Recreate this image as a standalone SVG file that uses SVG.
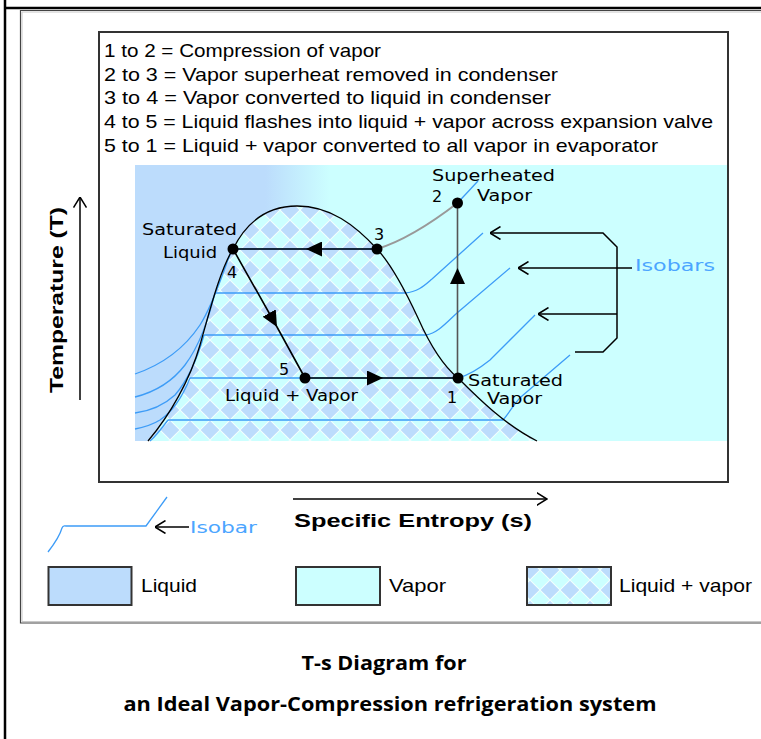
<svg xmlns="http://www.w3.org/2000/svg" width="761" height="739" viewBox="0 0 761 739">
<style>
.leg{font-family:"Liberation Sans",Arial,sans-serif;font-size:19px;fill:#000}
.lab{font-family:"DejaVu Sans",Verdana,sans-serif;font-size:16px;fill:#000}
.axis{font-family:"Liberation Sans",Arial,sans-serif;font-size:18px;font-weight:bold;fill:#000}
.title{font-family:"Open Sans","Liberation Sans",sans-serif;font-size:19px;font-weight:bold;fill:#000;text-anchor:middle}
.iso{fill:none;stroke:#3d9cf7;stroke-width:1.3}
.cyc{fill:none;stroke:#000;stroke-width:1.6}
.thin{fill:none;stroke:#000;stroke-width:1.5}
.pt{fill:#000}
.box{stroke:#333;stroke-width:2}
.blue{fill:#4ba5ff}
</style>
<defs>
<linearGradient id="bg" x1="135" y1="0" x2="727" y2="0" gradientUnits="userSpaceOnUse">
<stop offset="0.22" stop-color="#bcdcfc"/>
<stop offset="0.33" stop-color="#ccffff"/>
</linearGradient>
<pattern id="lv" width="20" height="20" patternUnits="userSpaceOnUse">
<rect width="20" height="20" fill="#f4ffff"/>
<path d="M10,0.7 L19.3,10 L10,19.3 L0.7,10 Z" fill="#bcdcfc"/>
<path d="M0,0 H9.3 L0,9.3 Z M10.7,0 H20 V9.3 Z M20,10.7 V20 H10.7 Z M0,10.7 L9.3,20 H0 Z" fill="#ccffff"/>
</pattern>
<marker id="oa" viewBox="0 0 11 14" refX="10.5" refY="7" markerWidth="11" markerHeight="14" markerUnits="userSpaceOnUse" orient="auto-start-reverse">
<path d="M0,0.5 L10.5,7 L0,13.5" fill="none" stroke="#000" stroke-width="1.5"/>
</marker>
<marker id="fa" viewBox="0 0 16 15" refX="16" refY="7.5" markerWidth="16" markerHeight="15" markerUnits="userSpaceOnUse" orient="auto">
<path d="M0,0 L16,7.5 L0,15 Z" fill="#000"/>
</marker>
</defs>

<!-- page frame -->
<g id="frame">
<line x1="5" y1="0" x2="5" y2="739" stroke="#000" stroke-width="2.5"/>
<line x1="4" y1="8" x2="761" y2="8" stroke="#000" stroke-width="2.5"/>
<path d="M761,10.5 H20.5 V623 H761" fill="none" stroke="#444" stroke-width="1.2"/>
<path d="M761,12 H22 V621.5 H761" fill="none" stroke="#c8c8c8" stroke-width="1"/>
<rect x="99" y="32" width="629" height="450" fill="#fff" class="box"/>
</g>

<!-- process legend -->
<g id="process-legend">
<text class="leg" x="104" y="57" textLength="277" lengthAdjust="spacingAndGlyphs">1 to 2 = Compression of vapor</text>
<text class="leg" x="104" y="81" textLength="454" lengthAdjust="spacingAndGlyphs">2 to 3 = Vapor superheat removed in condenser</text>
<text class="leg" x="104" y="104" textLength="447" lengthAdjust="spacingAndGlyphs">3 to 4 = Vapor converted to liquid in condenser</text>
<text class="leg" x="104" y="128" textLength="609" lengthAdjust="spacingAndGlyphs">4 to 5 = Liquid flashes into liquid + vapor across expansion valve</text>
<text class="leg" x="104" y="152" textLength="554" lengthAdjust="spacingAndGlyphs">5 to 1 = Liquid + vapor converted to all vapor in evaporator</text>
</g>

<!-- chart regions -->
<g id="chart">
<rect x="135" y="165" width="592" height="276" fill="url(#bg)"/>
<path id="dome-fill" d="M148,441 C170,415 190,380 200,345 C210,310 220,270 233,249 C245,225 265,206 297,206 C330,206 355,225 377,249 C392,265 405,290 418,318 C430,345 442,365 458,378 C478,398 505,425 537,441 Z" fill="url(#lv)"/>
</g>

<!-- isobar lines -->
<g id="isobars">
<path class="iso" d="M231,252 C222,275 213,305 200,325 C188,343 170,362 135,374"/>
<path class="iso" d="M215,293 C208,320 200,345 185,365 C172,382 155,392 135,397"/>
<path class="iso" d="M204,335 C197,360 188,380 175,395 C163,406 150,411 135,413"/>
<path class="iso" d="M190,378 C182,398 172,412 160,420 C152,425 145,427 135,429"/>
<path class="iso" d="M168,420 C162,428 156,436 150,441"/>
<path class="iso" d="M233,249 H377"/>
<path class="iso" d="M215,293 H405 C418,292 425,285 432,279 L483,233"/>
<path class="iso" d="M204,335 H426 C438,333 447,322 457,313 L510,268"/>
<path class="iso" d="M190,378 H458 C470,375 480,368 490,360 L535,315"/>
<path class="iso" d="M168,420 H503 C510,412 515,402 522,396 L570,355"/>
<path class="iso" d="M457.5,203 L478,181"/>
</g>

<!-- saturation dome outline -->
<g id="dome">
<path d="M148,441 C170,415 190,380 200,345 C210,310 220,270 233,249 C245,225 265,206 297,206 C330,206 355,225 377,249 C392,265 405,290 418,318 C430,345 442,365 458,378 C478,398 505,425 537,441" fill="none" stroke="#000" stroke-width="1.3"/>
</g>

<!-- cycle connectors -->
<g id="connectors">
<path d="M377,249 C400,242 425,228 457.5,203" fill="none" stroke="#999" stroke-width="2"/>
<path class="cyc" d="M377,249 L306,249 L233,249" marker-mid="url(#fa)"/>
<path class="cyc" d="M233,249 L277,327 L305,378" marker-mid="url(#fa)"/>
<path class="cyc" d="M305,378 L383,378 L458,378" marker-mid="url(#fa)"/>
<path d="M457.5,378 L457.5,268 L457.5,203" fill="none" stroke="#555" stroke-width="1.6" marker-mid="url(#fa)"/>
</g>

<!-- state points -->
<g id="point-1"><circle class="pt" cx="458" cy="378" r="5.5"/><text class="lab" x="447" y="403">1</text>
<text class="lab" x="468" y="386" textLength="95" lengthAdjust="spacingAndGlyphs">Saturated</text>
<text class="lab" x="487" y="404" textLength="55" lengthAdjust="spacingAndGlyphs">Vapor</text></g>
<g id="point-2"><circle class="pt" cx="457.5" cy="203" r="5.5"/><text class="lab" x="432" y="202">2</text>
<text class="lab" x="432" y="181" textLength="123" lengthAdjust="spacingAndGlyphs">Superheated</text>
<text class="lab" x="477" y="201" textLength="55" lengthAdjust="spacingAndGlyphs">Vapor</text></g>
<g id="point-3"><circle class="pt" cx="377" cy="249" r="5.5"/><text class="lab" x="374" y="240">3</text></g>
<g id="point-4"><circle class="pt" cx="233" cy="249" r="5.5"/><text class="lab" x="227" y="278">4</text>
<text class="lab" x="142" y="235" textLength="95" lengthAdjust="spacingAndGlyphs">Saturated</text>
<text class="lab" x="163" y="258" textLength="54" lengthAdjust="spacingAndGlyphs">Liquid</text></g>
<g id="point-5"><circle class="pt" cx="305" cy="378" r="5.5"/><text class="lab" x="279" y="375">5</text>
<text class="lab" x="225" y="401" textLength="133" lengthAdjust="spacingAndGlyphs">Liquid + Vapor</text></g>

<!-- isobar callout -->
<g id="isobars-label">
<path class="thin" d="M490,233 L603,233 L617,247 L617,338 L603,352 L575,352" marker-start="url(#oa)"/>
<path class="thin" d="M518,268 L632,268" marker-start="url(#oa)"/>
<path class="thin" d="M538,314 L617,314" marker-start="url(#oa)"/>
<text class="lab blue" x="635" y="271" textLength="80" lengthAdjust="spacingAndGlyphs">Isobars</text>
</g>

<!-- axes -->
<g id="t-axis">
<path class="thin" d="M80,400 L80,197" marker-end="url(#oa)"/>
<text class="axis" transform="translate(63,300) rotate(-90)" text-anchor="middle" textLength="186" lengthAdjust="spacingAndGlyphs">Temperature (T)</text>
</g>
<g id="s-axis">
<path class="thin" d="M293,499 L547,499" marker-end="url(#oa)"/>
<text class="axis" x="294" y="527" textLength="238" lengthAdjust="spacingAndGlyphs">Specific Entropy (s)</text>
</g>

<!-- isobar legend -->
<g id="isobar-legend">
<path class="iso" d="M48,552 C55,543 60,535 62,528 C63,525 64,526 66,526 H146 L167,497"/>
<path class="thin" d="M155,527 L189,527" marker-start="url(#oa)"/>
<text class="lab blue" x="190" y="533" textLength="67" lengthAdjust="spacingAndGlyphs">Isobar</text>
</g>

<!-- region legend -->
<g id="legend-liquid"><rect x="48.5" y="567" width="83" height="38" fill="#bcdcfc" class="box"/><text class="leg" x="141" y="592" textLength="56" lengthAdjust="spacingAndGlyphs">Liquid</text></g>
<g id="legend-vapor"><rect x="296" y="567" width="84" height="38" fill="#ccffff" class="box"/><text class="leg" x="389" y="592" textLength="57" lengthAdjust="spacingAndGlyphs">Vapor</text></g>
<g id="legend-mix"><rect x="527" y="567" width="84" height="38" fill="url(#lv)" class="box"/><text class="leg" x="619" y="592" textLength="133" lengthAdjust="spacingAndGlyphs">Liquid + vapor</text></g>

<!-- caption -->
<g id="caption">
<text class="title" x="384" y="670" textLength="165" lengthAdjust="spacingAndGlyphs">T-s Diagram for</text>
<text class="title" x="390" y="711" textLength="533" lengthAdjust="spacingAndGlyphs">an Ideal Vapor-Compression refrigeration system</text>
</g>
</svg>
